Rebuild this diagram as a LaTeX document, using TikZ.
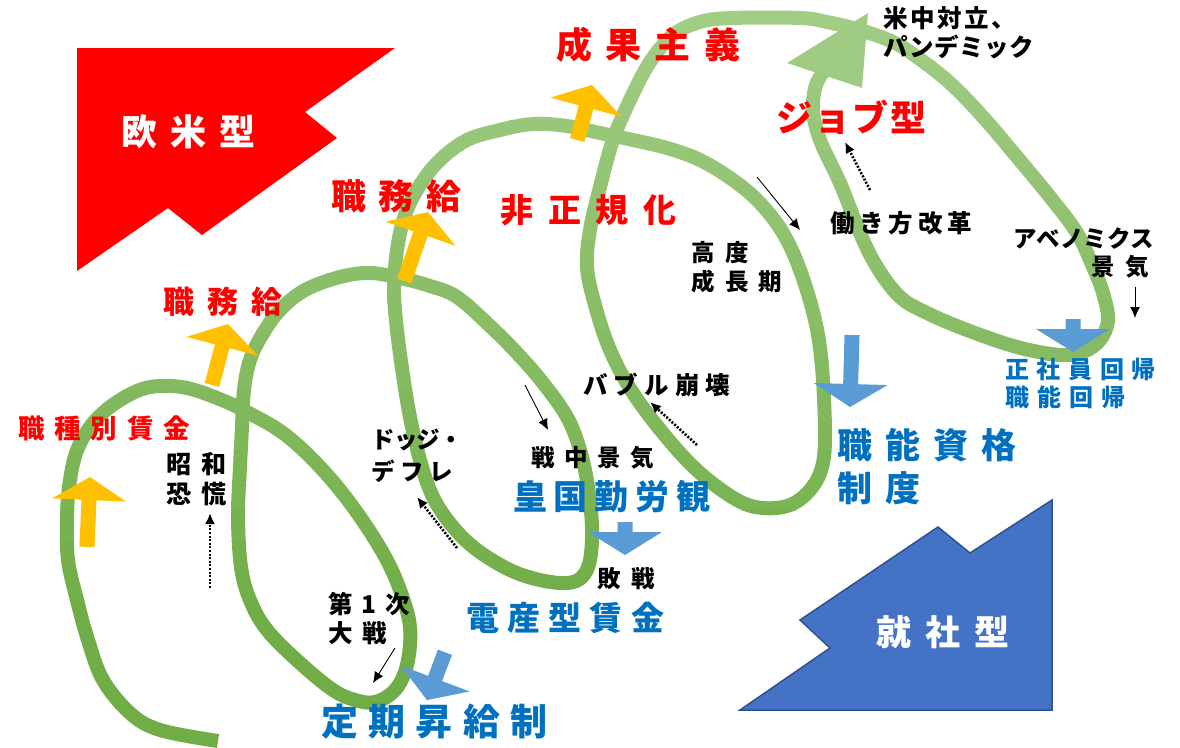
\documentclass[tikz,border=0pt]{standalone}
\usepackage{fontspec}
\setmainfont{Noto Sans CJK JP}
\usetikzlibrary{arrows.meta}
\definecolor{jred}{HTML}{FF0000}
\definecolor{jblue}{HTML}{0070C0}
\definecolor{ablue}{HTML}{5B9BD5}
\definecolor{ayel}{HTML}{FFC000}
\definecolor{gdark}{HTML}{70AD47}
\definecolor{glight}{HTML}{A2CD85}
\definecolor{shblue}{HTML}{4472C4}
\definecolor{shborder}{HTML}{2F528F}
\newcommand\jt[3]{{\fontsize{#1}{#1}\selectfont\addfontfeature{LetterSpace=#2}#3}}
\newcommand\blkarrow[5]{\begin{scope}[shift={(#1,#2)},rotate=#3]\fill[#5] (0,0) -- (37,23) -- (7.5,23) -- (7.5,#4) -- (-7.5,#4) -- (-7.5,23) -- (-37,23) -- cycle;\end{scope}}
\tikzset{
  lbl/.style={inner sep=0pt, anchor=west, font=\bfseries},
  redlbl/.style={lbl, text=jred},
  bluelbl/.style={lbl, text=jblue},
  blacklbl/.style={lbl, text=black},
  whitelbl/.style={lbl, text=white},
  dotarrow/.style={line width=2.6pt, dash pattern=on 2pt off 1.6pt, -{Latex[length=11pt,width=10pt]}},
  thinarrow/.style={line width=0.9pt, -{Latex[length=11pt,width=10pt]}},
}
\begin{document}
\begin{tikzpicture}[x=1pt,y=-1pt]
\useasboundingbox (0,0) rectangle (1180,747);
% big shapes
\fill[jred] (77,48) -- (395,48) -- (305,112) -- (337,138) -- (202,235) -- (168,208) -- (77,271) -- cycle;
\filldraw[fill=shblue, draw=shborder, line width=1.5pt] (1052,500) -- (1052,710) -- (740,710) -- (830,648) -- (800,620) -- (938,527) -- (970,553) -- cycle;
% green spiral
\path[save path=\gpath] plot[smooth, tension=0.6] coordinates {
(218,741) (160,730) (130,713) (103,680) (88,640) (77,600) (68,560) (67,520) (69,487) (76,453) (90,427) (110,407) (137,391) (160,386) (187,388) (217,398) (243,410) (283,433) (320,467) (353,507) (383,553) (400,590) (410,627) (407,665) (395,690) (375,702) (355,700) (333,690) (300,663) (267,630) (250,600) (241,567) (238,517) (240,467) (242,427) (244,390) (250,360) (262,335) (280,310) (305,290) (340,277) (370,273) (400,278) (430,286) (457,297) (490,326) (517,353) (543,383) (567,417) (580,450) (588,487) (592,527) (590,560) (582,577) (567,583) (540,580) (510,570) (477,550) (453,527) (433,497) (420,460) (410,417) (403,375) (397,330) (394,290) (397,250) (405,215) (420,185) (440,160) (467,140) (500,130) (533,124) (567,126) (600,133) (633,140) (667,148) (700,160) (733,180) (760,203) (783,233) (800,270) (815,320) (822,367) (825,433) (822,467) (810,490) (790,505) (763,508) (737,500) (700,473) (667,438) (633,393) (610,350) (595,305) (587,267) (590,230) (600,187) (613,140) (630,100) (650,62) (673,35) (700,22) (733,18) (800,18) (827,22) (860,30) (893,42) (917,57) (950,83) (983,117) (1017,157) (1050,197) (1077,233) (1093,267) (1103,293) (1108,320) (1100,340) (1083,352) (1060,355) (1017,347) (967,330) (927,313) (900,297) (877,267) (860,233) (840,183) (820,140) (813,110) (816,85) (825,70)};
\foreach \i in {0,...,24}{
  \pgfmathsetmacro\pc{max(0,100-\i*5)}
  \colorlet{bandc}{glight!\pc!gdark}
  \begin{scope}
    \clip (0,\i*30) rectangle (1180,\i*30+30.6);
    \draw[bandc, line width=14pt, use path=\gpath];
  \end{scope}
}
\fill[glight!95!gdark] (868,13) -- (787,63) -- (862,88) -- cycle;
% yellow arrows
\blkarrow{90}{477}{-2.5}{70}{ayel}
\blkarrow{228}{324}{-14.7}{63}{ayel}
\blkarrow{428}{212}{-19}{73}{ayel}
\blkarrow{592}{85}{-15}{57}{ayel}
% blue arrows
\blkarrow{427}{700}{159.4}{51}{ablue}
\blkarrow{625}{555}{180}{33}{ablue}
\blkarrow{850}{407}{178.4}{72}{ablue}
\blkarrow{1073}{352}{180}{33}{ablue}
% small arrows
\coordinate (d1s) at (210,588); \coordinate (d1e) at (210,513);
\coordinate (d2s) at (457,548); \coordinate (d2e) at (417,497);
\coordinate (d3s) at (697,445); \coordinate (d3e) at (650,402);
\coordinate (d4s) at (870,190); \coordinate (d4e) at (845,142);
\coordinate (s1s) at (525,385); \coordinate (s1e) at (548,430);
\coordinate (s2s) at (757,177); \coordinate (s2e) at (800,230);
\coordinate (s3s) at (395,648); \coordinate (s3e) at (373,683);
\coordinate (s4s) at (1135,287); \coordinate (s4e) at (1135,318);
\draw[dotarrow] (d1s) -- (d1e);
\draw[dotarrow] (d2s) -- (d2e);
\draw[dotarrow] (d3s) -- (d3e);
\draw[dotarrow] (d4s) -- (d4e);
\draw[thinarrow] (s1s) -- (s1e);
\draw[thinarrow] (s2s) -- (s2e);
\draw[thinarrow] (s3s) -- (s3e);
\draw[thinarrow] (s4s) -- (s4e);
% red labels
\node[redlbl] (seika) at (556,45) {\jt{36}{37}{成果主義}};
\node[redlbl] (job) at (776,117) {\jt{36}{6}{ジョブ型}};
\node[redlbl] (shokumu1) at (331,196) {\jt{35}{36}{職務給}};
\node[redlbl] (hisei) at (500,210) {\jt{33}{45}{非正規化}};
\node[redlbl] (shokumu2) at (163,302) {\jt{31}{43}{職務給}};
\node[redlbl] (shokushu) at (18,428) {\jt{26.5}{37}{職種別賃金}};
% blue labels
\node[bluelbl] (teiki) at (321,722) {\jt{37}{28}{定期昇給制}};
\node[bluelbl] (densan) at (466,618) {\jt{33}{25}{電産型賃金}};
\node[bluelbl] (koukoku) at (513,497) {\jt{34}{20}{皇国勤労観}};
\node[bluelbl] (shokuno1) at (837,445) {\jt{35}{37}{職能資格}};
\node[bluelbl] (seido) at (837,488) {\jt{35}{37}{制度}};
\node[bluelbl] (seisha) at (1005,369) {\jt{24}{32}{正社員回帰}};
\node[bluelbl] (shokuno2) at (1005,397) {\jt{24}{34}{職能回帰}};
% black labels
\node[blacklbl] (beichu) at (883,18) {\jt{24.5}{10}{米中対立、}};
\node[blacklbl] (pan) at (883,47) {\jt{24.5}{2}{パンデミック}};
\node[blacklbl] (hataraki) at (830,223) {\jt{24.5}{20}{働き方改革}};
\node[blacklbl] (abe) at (1013,239) {\jt{23.5}{1}{アベノミクス}};
\node[blacklbl] (keiki) at (1091,267) {\jt{23.5}{47}{景気}};
\node[blacklbl] (koudo) at (691,253) {\jt{23.5}{44}{高度}};
\node[blacklbl] (seichou) at (691,282) {\jt{23.5}{44}{成長期}};
\node[blacklbl] (bubble) at (583,385) {\jt{24.5}{25}{バブル崩壊}};
\node[blacklbl] (senchu) at (531,458) {\jt{23.5}{41}{戦中景気}};
\node[blacklbl] (haisen) at (597,579) {\jt{23.5}{47}{敗戦}};
\node[blacklbl] (dodge) at (371,440) {\jt{23.5}{-3}{ドッジ・}};
\node[blacklbl] (defure) at (371,471) {\jt{23.5}{24}{デフレ}};
\node[blacklbl] (showa) at (166,464) {\jt{25}{40}{昭和}};
\node[blacklbl] (kyoukou) at (166,494) {\jt{25}{40}{恐慌}};
\node[blacklbl] (dai1) at (328,604) {\jt{24.5}{37}{第1次}};
\node[blacklbl] (taisen) at (328,633) {\jt{24.5}{41}{大戦}};
% white labels
\node[whitelbl] (oubei) at (121,132) {\jt{36}{36}{欧米型}};
\node[whitelbl] (shusha) at (876,632) {\jt{35}{41}{就社型}};
\end{tikzpicture}
\end{document}
